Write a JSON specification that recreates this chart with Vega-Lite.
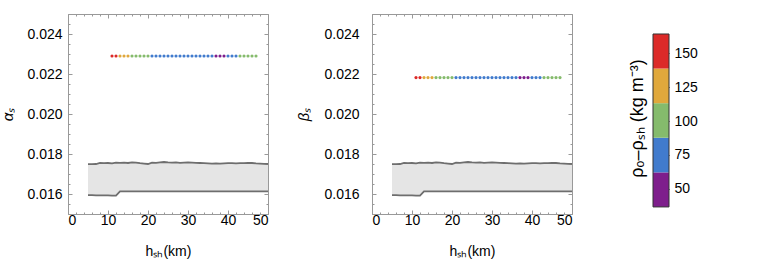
{
  "$schema": "https://vega.github.io/schema/vega-lite/v6.json",
  "padding": {"left": 0, "top": 13, "right": 5, "bottom": 5},
  "config": {
    "font": "Liberation Sans",
    "view": {"stroke": "#999", "strokeWidth": 1},
    "axis": {"labelFont": "Liberation Sans", "labelFontSize": 14, "labelColor": "#000", "titleFont": "Liberation Sans", "titleFontSize": 14, "titleFontWeight": "normal", "titleColor": "#000", "domain": false, "grid": false, "tickColor": "#999", "tickWidth": 1}
  },
  "datasets": {
    "band": [
      {"h": 5, "lo": 0.01594, "hi": 0.01749}, {"h": 6, "lo": 0.01594, "hi": 0.01749}, {"h": 7, "lo": 0.01593, "hi": 0.0175}, {"h": 8, "lo": 0.01593, "hi": 0.01756}, {"h": 9, "lo": 0.01593, "hi": 0.01754}, {"h": 10, "lo": 0.01593, "hi": 0.01755}, {"h": 11, "lo": 0.01592, "hi": 0.01753}, {"h": 12, "lo": 0.01592, "hi": 0.01757}, {"h": 13, "lo": 0.01613, "hi": 0.01756}, {"h": 14, "lo": 0.01613, "hi": 0.01757}, {"h": 15, "lo": 0.01613, "hi": 0.01755}, {"h": 16, "lo": 0.01613, "hi": 0.01758}, {"h": 17, "lo": 0.01613, "hi": 0.01757}, {"h": 18, "lo": 0.01613, "hi": 0.01754}, {"h": 19, "lo": 0.01613, "hi": 0.01752}, {"h": 20, "lo": 0.01613, "hi": 0.0175}, {"h": 21, "lo": 0.01613, "hi": 0.01757}, {"h": 22, "lo": 0.01613, "hi": 0.01756}, {"h": 23, "lo": 0.01613, "hi": 0.01758}, {"h": 24, "lo": 0.01613, "hi": 0.0176}, {"h": 25, "lo": 0.01613, "hi": 0.01758}, {"h": 26, "lo": 0.01613, "hi": 0.01757}, {"h": 27, "lo": 0.01613, "hi": 0.01758}, {"h": 28, "lo": 0.01613, "hi": 0.01756}, {"h": 29, "lo": 0.01613, "hi": 0.01757}, {"h": 30, "lo": 0.01613, "hi": 0.01758}, {"h": 31, "lo": 0.01613, "hi": 0.01757}, {"h": 32, "lo": 0.01613, "hi": 0.01756}, {"h": 33, "lo": 0.01613, "hi": 0.01755}, {"h": 34, "lo": 0.01613, "hi": 0.01754}, {"h": 35, "lo": 0.01613, "hi": 0.01753}, {"h": 36, "lo": 0.01613, "hi": 0.01752}, {"h": 37, "lo": 0.01613, "hi": 0.01753}, {"h": 38, "lo": 0.01613, "hi": 0.01752}, {"h": 39, "lo": 0.01613, "hi": 0.01753}, {"h": 40, "lo": 0.01613, "hi": 0.01754}, {"h": 41, "lo": 0.01613, "hi": 0.01754}, {"h": 42, "lo": 0.01613, "hi": 0.01753}, {"h": 43, "lo": 0.01613, "hi": 0.01754}, {"h": 44, "lo": 0.01613, "hi": 0.01754}, {"h": 45, "lo": 0.01613, "hi": 0.01755}, {"h": 46, "lo": 0.01613, "hi": 0.01755}, {"h": 47, "lo": 0.01613, "hi": 0.01753}, {"h": 48, "lo": 0.01613, "hi": 0.01752}, {"h": 49, "lo": 0.01613, "hi": 0.01751}, {"h": 50, "lo": 0.01613, "hi": 0.0175}
    ],
    "alpha": [
      {"h": 11, "v": 0.0229, "rho": 150}, {"h": 12, "v": 0.0229, "rho": 150}, {"h": 13, "v": 0.0229, "rho": 125}, {"h": 14, "v": 0.0229, "rho": 125}, {"h": 15, "v": 0.0229, "rho": 125}, {"h": 16, "v": 0.0229, "rho": 100}, {"h": 17, "v": 0.0229, "rho": 100}, {"h": 18, "v": 0.0229, "rho": 100}, {"h": 19, "v": 0.0229, "rho": 100}, {"h": 20, "v": 0.0229, "rho": 100}, {"h": 21, "v": 0.0229, "rho": 75}, {"h": 22, "v": 0.0229, "rho": 75}, {"h": 23, "v": 0.0229, "rho": 75}, {"h": 24, "v": 0.0229, "rho": 75}, {"h": 25, "v": 0.0229, "rho": 75}, {"h": 26, "v": 0.0229, "rho": 75}, {"h": 27, "v": 0.0229, "rho": 75}, {"h": 28, "v": 0.0229, "rho": 75}, {"h": 29, "v": 0.0229, "rho": 75}, {"h": 30, "v": 0.0229, "rho": 75}, {"h": 31, "v": 0.0229, "rho": 75}, {"h": 32, "v": 0.0229, "rho": 75}, {"h": 33, "v": 0.0229, "rho": 75}, {"h": 34, "v": 0.0229, "rho": 75}, {"h": 35, "v": 0.0229, "rho": 75}, {"h": 36, "v": 0.0229, "rho": 75}, {"h": 37, "v": 0.0229, "rho": 50}, {"h": 38, "v": 0.0229, "rho": 50}, {"h": 39, "v": 0.0229, "rho": 50}, {"h": 40, "v": 0.0229, "rho": 75}, {"h": 41, "v": 0.0229, "rho": 75}, {"h": 42, "v": 0.0229, "rho": 75}, {"h": 43, "v": 0.0229, "rho": 100}, {"h": 44, "v": 0.0229, "rho": 100}, {"h": 45, "v": 0.0229, "rho": 100}, {"h": 46, "v": 0.0229, "rho": 100}, {"h": 47, "v": 0.0229, "rho": 100}
    ],
    "beta": [
      {"h": 11, "v": 0.02182, "rho": 150}, {"h": 12, "v": 0.02182, "rho": 150}, {"h": 13, "v": 0.02182, "rho": 125}, {"h": 14, "v": 0.02182, "rho": 125}, {"h": 15, "v": 0.02182, "rho": 125}, {"h": 16, "v": 0.02182, "rho": 100}, {"h": 17, "v": 0.02182, "rho": 100}, {"h": 18, "v": 0.02182, "rho": 100}, {"h": 19, "v": 0.02182, "rho": 100}, {"h": 20, "v": 0.02182, "rho": 100}, {"h": 21, "v": 0.02182, "rho": 75}, {"h": 22, "v": 0.02182, "rho": 75}, {"h": 23, "v": 0.02182, "rho": 75}, {"h": 24, "v": 0.02182, "rho": 75}, {"h": 25, "v": 0.02182, "rho": 75}, {"h": 26, "v": 0.02182, "rho": 75}, {"h": 27, "v": 0.02182, "rho": 75}, {"h": 28, "v": 0.02182, "rho": 75}, {"h": 29, "v": 0.02182, "rho": 75}, {"h": 30, "v": 0.02182, "rho": 75}, {"h": 31, "v": 0.02182, "rho": 75}, {"h": 32, "v": 0.02182, "rho": 75}, {"h": 33, "v": 0.02182, "rho": 75}, {"h": 34, "v": 0.02182, "rho": 75}, {"h": 35, "v": 0.02182, "rho": 75}, {"h": 36, "v": 0.02182, "rho": 75}, {"h": 37, "v": 0.02182, "rho": 50}, {"h": 38, "v": 0.02182, "rho": 50}, {"h": 39, "v": 0.02182, "rho": 50}, {"h": 40, "v": 0.02182, "rho": 75}, {"h": 41, "v": 0.02182, "rho": 75}, {"h": 42, "v": 0.02182, "rho": 75}, {"h": 43, "v": 0.02182, "rho": 100}, {"h": 44, "v": 0.02182, "rho": 100}, {"h": 45, "v": 0.02182, "rho": 100}, {"h": 46, "v": 0.02182, "rho": 100}, {"h": 47, "v": 0.02182, "rho": 100}
    ],
    "bar": [
      {"rho": 50, "lo": 36.8, "hi": 62.2}, {"rho": 75, "lo": 62.2, "hi": 87.7}, {"rho": 100, "lo": 87.7, "hi": 113.1}, {"rho": 125, "lo": 113.1, "hi": 138.6}, {"rho": 150, "lo": 138.6, "hi": 164}
    ],
    "frame": [{"lo": 36.8, "hi": 164}]
  },
  "bounds": "full",
  "spacing": 51,
  "hconcat": [
    {
      "bounds": "flush",
      "spacing": 104,
      "hconcat": [
        {
          "width": 200, "height": 200,
          "layer": [
            {"data": {"name": "band"}, "mark": {"type": "area", "color": "#e5e5e5", "opacity": 1},
             "encoding": {
               "x": {"field": "h", "type": "quantitative", "scale": {"domain": [0, 50], "nice": false, "zero": false}, "axis": {"orient": "bottom", "values": [0, 10, 20, 30, 40, 50], "ticks": false, "labelPadding": -1, "title": "hₛₕ(km)", "titlePadding": 17}},
               "y": {"field": "lo", "type": "quantitative", "scale": {"domain": [0.015, 0.025], "nice": false, "zero": false}, "axis": {"orient": "left", "values": [0.016, 0.018, 0.02, 0.022, 0.024], "format": ".3f", "ticks": false, "labelPadding": 6, "title": "αₛ", "titleFontStyle": "italic", "titleFontSize": 15, "titlePadding": 11}},
               "y2": {"field": "hi"}}},
            {"data": {"name": "band"}, "mark": {"type": "line", "color": "#6e6e6e", "strokeWidth": 1.8},
             "encoding": {
               "x": {"field": "h", "type": "quantitative", "axis": {"orient": "bottom", "values": [0, 2, 4, 6, 8, 10, 12, 14, 16, 18, 20, 22, 24, 26, 28, 30, 32, 34, 36, 38, 40, 42, 44, 46, 48, 50], "labels": false, "title": null, "tickSize": {"condition": {"test": "datum.value % 10 === 0", "value": -4}, "value": -2}}},
               "y": {"field": "hi", "type": "quantitative", "axis": {"orient": "left", "values": [0.015, 0.0155, 0.016, 0.0165, 0.017, 0.0175, 0.018, 0.0185, 0.019, 0.0195, 0.02, 0.0205, 0.021, 0.0215, 0.022, 0.0225, 0.023, 0.0235, 0.024, 0.0245, 0.025], "labels": false, "title": null, "tickSize": {"condition": {"test": "round(datum.value*2000) % 4 === 0", "value": -4}, "value": -2}}}}},
            {"data": {"name": "band"}, "mark": {"type": "line", "color": "#6e6e6e", "strokeWidth": 1.8},
             "encoding": {
               "x": {"field": "h", "type": "quantitative", "axis": {"orient": "top", "values": [0, 2, 4, 6, 8, 10, 12, 14, 16, 18, 20, 22, 24, 26, 28, 30, 32, 34, 36, 38, 40, 42, 44, 46, 48, 50], "labels": false, "title": null, "tickSize": {"condition": {"test": "datum.value % 10 === 0", "value": -4}, "value": -2}}},
               "y": {"field": "lo", "type": "quantitative", "axis": {"orient": "right", "values": [0.015, 0.0155, 0.016, 0.0165, 0.017, 0.0175, 0.018, 0.0185, 0.019, 0.0195, 0.02, 0.0205, 0.021, 0.0215, 0.022, 0.0225, 0.023, 0.0235, 0.024, 0.0245, 0.025], "labels": false, "title": null, "tickSize": {"condition": {"test": "round(datum.value*2000) % 4 === 0", "value": -4}, "value": -2}}}}},
            {"data": {"name": "alpha"}, "mark": {"type": "circle", "size": 10, "opacity": 1},
             "encoding": {
               "x": {"field": "h", "type": "quantitative", "axis": null},
               "y": {"field": "v", "type": "quantitative", "axis": null},
               "color": {"field": "rho", "type": "ordinal", "scale": {"domain": [50, 75, 100, 125, 150], "range": ["#7e1e8c", "#417bcd", "#85bb6c", "#e0a83c", "#dc2a28"]}, "legend": null}}}
          ],
          "resolve": {"axis": {"x": "independent", "y": "independent"}}
        },
        {
          "width": 200, "height": 200,
          "layer": [
            {"data": {"name": "band"}, "mark": {"type": "area", "color": "#e5e5e5", "opacity": 1},
             "encoding": {
               "x": {"field": "h", "type": "quantitative", "scale": {"domain": [0, 50], "nice": false, "zero": false}, "axis": {"orient": "bottom", "values": [0, 10, 20, 30, 40, 50], "ticks": false, "labelPadding": -1, "title": "hₛₕ(km)", "titlePadding": 17}},
               "y": {"field": "lo", "type": "quantitative", "scale": {"domain": [0.015, 0.025], "nice": false, "zero": false}, "axis": {"orient": "left", "values": [0.016, 0.018, 0.02, 0.022, 0.024], "format": ".3f", "ticks": false, "labelPadding": 13, "title": "βₛ", "titleFontStyle": "italic", "titleFontSize": 15, "titlePadding": 12}},
               "y2": {"field": "hi"}}},
            {"data": {"name": "band"}, "mark": {"type": "line", "color": "#6e6e6e", "strokeWidth": 1.8},
             "encoding": {
               "x": {"field": "h", "type": "quantitative", "axis": {"orient": "bottom", "values": [0, 2, 4, 6, 8, 10, 12, 14, 16, 18, 20, 22, 24, 26, 28, 30, 32, 34, 36, 38, 40, 42, 44, 46, 48, 50], "labels": false, "title": null, "tickSize": {"condition": {"test": "datum.value % 10 === 0", "value": -4}, "value": -2}}},
               "y": {"field": "hi", "type": "quantitative", "axis": {"orient": "left", "values": [0.015, 0.0155, 0.016, 0.0165, 0.017, 0.0175, 0.018, 0.0185, 0.019, 0.0195, 0.02, 0.0205, 0.021, 0.0215, 0.022, 0.0225, 0.023, 0.0235, 0.024, 0.0245, 0.025], "labels": false, "title": null, "tickSize": {"condition": {"test": "round(datum.value*2000) % 4 === 0", "value": -4}, "value": -2}}}}},
            {"data": {"name": "band"}, "mark": {"type": "line", "color": "#6e6e6e", "strokeWidth": 1.8},
             "encoding": {
               "x": {"field": "h", "type": "quantitative", "axis": {"orient": "top", "values": [0, 2, 4, 6, 8, 10, 12, 14, 16, 18, 20, 22, 24, 26, 28, 30, 32, 34, 36, 38, 40, 42, 44, 46, 48, 50], "labels": false, "title": null, "tickSize": {"condition": {"test": "datum.value % 10 === 0", "value": -4}, "value": -2}}},
               "y": {"field": "lo", "type": "quantitative", "axis": {"orient": "right", "values": [0.015, 0.0155, 0.016, 0.0165, 0.017, 0.0175, 0.018, 0.0185, 0.019, 0.0195, 0.02, 0.0205, 0.021, 0.0215, 0.022, 0.0225, 0.023, 0.0235, 0.024, 0.0245, 0.025], "labels": false, "title": null, "tickSize": {"condition": {"test": "round(datum.value*2000) % 4 === 0", "value": -4}, "value": -2}}}}},
            {"data": {"name": "beta"}, "mark": {"type": "circle", "size": 10, "opacity": 1},
             "encoding": {
               "x": {"field": "h", "type": "quantitative", "axis": null},
               "y": {"field": "v", "type": "quantitative", "axis": null},
               "color": {"field": "rho", "type": "ordinal", "scale": {"domain": [50, 75, 100, 125, 150], "range": ["#7e1e8c", "#417bcd", "#85bb6c", "#e0a83c", "#dc2a28"]}, "legend": null}}}
          ],
          "resolve": {"axis": {"x": "independent", "y": "independent"}}
        }
      ]
    },
    {
      "width": 16, "height": 200,
      "view": {"stroke": null},
      "layer": [
        {"data": {"name": "bar"}, "mark": {"type": "rect", "opacity": 1},
         "encoding": {
           "y": {"field": "lo", "type": "quantitative", "scale": {"domain": [31.6, 178.7], "nice": false, "zero": false}, "axis": {"orient": "right", "values": [50, 75, 100, 125, 150], "tickSize": -3, "tickColor": "#222", "labelPadding": 8, "title": "ρₒ–ρₛₕ   (kg m⁻³)", "titleFontSize": 18, "titleAngle": 270, "titleX": -32, "titleY": 104, "titleBaseline": "middle", "titleAlign": "center"}},
           "y2": {"field": "hi"},
           "color": {"field": "rho", "type": "ordinal", "scale": {"domain": [50, 75, 100, 125, 150], "range": ["#7e1e8c", "#417bcd", "#85bb6c", "#e0a83c", "#dc2a28"]}, "legend": null}}},
        {"data": {"name": "frame"}, "mark": {"type": "rect", "fillOpacity": 0, "stroke": "#333", "strokeWidth": 1},
         "encoding": {
           "y": {"field": "lo", "type": "quantitative"},
           "y2": {"field": "hi"}}}
      ]
    }
  ]
}
